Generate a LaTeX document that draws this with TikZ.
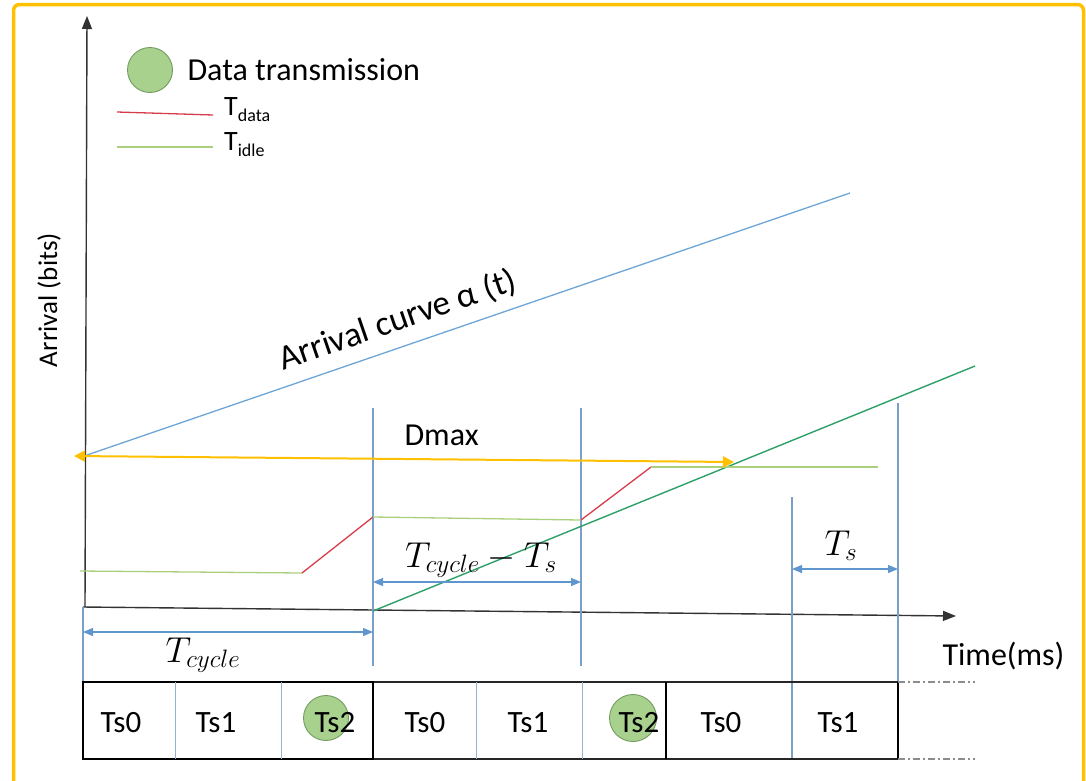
\RequirePackage{fix-cm}
\documentclass[tikz,border=0pt]{standalone}
\usepackage{fontspec}
\usepackage{graphicx}
\setmainfont{Carlito}
\usetikzlibrary{arrows.meta}
\definecolor{bordc}{RGB}{255,192,0}
\definecolor{bluec}{RGB}{120,160,200}
\definecolor{arrc}{RGB}{110,165,215}
\definecolor{idlec}{RGB}{170,208,125}
\definecolor{datac}{RGB}{215,60,75}
\definecolor{servc}{RGB}{45,160,105}
\definecolor{dotc}{RGB}{169,209,142}
\definecolor{dotd}{RGB}{115,155,95}
\definecolor{dimc}{RGB}{95,150,205}
\definecolor{yelc}{RGB}{255,192,0}
\newcommand{\mylabelmath}[1]{\scalebox{1.2}{$#1$}}
\begin{document}
\begin{tikzpicture}[x=1pt,y=-1pt,
  axis/.style={draw=black!80, line width=1.4pt, -{Triangle[length=13pt,width=10pt]}},
  vline/.style={draw=bluec, line width=1.1pt},
  dimarrow/.style={draw=dimc, line width=1.2pt, {Triangle[length=10pt,width=8pt]}-{Triangle[length=10pt,width=8pt]}},
  idle/.style={draw=idlec, line width=1.3pt},
  datal/.style={draw=datac, line width=1.3pt},
  dot/.style={circle, fill=dotc, draw=dotd, line width=0.9pt, inner sep=0pt},
  cell/.style={anchor=base, font=\fontsize{31}{33}\selectfont},
  lbl/.style={font=\fontsize{32}{36}\selectfont},
  mlbl/.style={anchor=base, font=\fontsize{30}{33}\selectfont},
  boxline/.style={draw=black!85, line width=1.4pt},
  divl/.style={draw=bluec!80, line width=1pt}
]
\useasboundingbox (0,0) rectangle (1086,780);
% frame
\draw[bordc, line width=3.5pt, rounded corners=6pt] (13.5,782) -- (13.5,4.5) -- (1083.5,4.5) -- (1083.5,782);

% legend
\node[dot, minimum size=45pt] (ldot) at (150,70) {};
\node[lbl, anchor=base west] (ltxt) at (184,80) {Data transmission};
\coordinate (lr1) at (117,112); \coordinate (lr2) at (213,115);
\draw[datal] (lr1) -- (lr2);
\node[anchor=base west, font=\fontsize{28}{30}\selectfont, inner sep=0pt] (ltd) at (224,115) {T\raisebox{-6pt}{\fontsize{18}{20}\selectfont data}};
\coordinate (lg1) at (117,147); \coordinate (lg2) at (213,147);
\draw[idle] (lg1) -- (lg2);
\node[anchor=base west, font=\fontsize{28}{30}\selectfont, inner sep=0pt] (lti) at (224,150) {T\raisebox{-6pt}{\fontsize{18}{20}\selectfont idle}};

% axes
\coordinate (yb) at (85,607); \coordinate (yt) at (87,16);
\coordinate (xl) at (83,607); \coordinate (xr) at (956,616);
\draw[axis] (yb) -- (yt);
\draw[axis] (xl) -- (xr);
\node[rotate=90, anchor=base, font=\fontsize{27}{30}\selectfont] (ylab) at (57,300) {Arrival (bits)};
\node[lbl, anchor=base west] (xlab) at (939,665) {Time(ms)};

% vertical guide lines
\coordinate (v0a) at (83,607); \coordinate (v0b) at (83,682);
\coordinate (v1a) at (373,408); \coordinate (v1b) at (373,666);
\coordinate (v2a) at (581,408); \coordinate (v2b) at (581,666);
\coordinate (v3a) at (792,497); \coordinate (v3b) at (792,759);
\coordinate (v4a) at (898,403); \coordinate (v4b) at (898,682);
\draw[vline] (v0a) -- (v0b);
\draw[vline] (v1a) -- (v1b);
\draw[vline] (v2a) -- (v2b);
\draw[vline] (v3a) -- (v3b);
\draw[vline] (v4a) -- (v4b);

% arrival curve
\coordinate (ac1) at (87,455); \coordinate (ac2) at (850,193);
\draw[arrc, line width=1.3pt] (ac1) -- (ac2);
\node[rotate=18.95, anchor=base, font=\fontsize{35}{37}\selectfont] (aclab) at (401,330) {Arrival curve α (t)};

% service curve
\coordinate (sc1) at (373,611); \coordinate (sc2) at (975,366);
\draw[servc, line width=1.4pt] (sc1) -- (sc2);

% idle / data staircase
\coordinate (s1) at (80,571); \coordinate (s2) at (302,573);
\coordinate (s3) at (373,517); \coordinate (s4) at (581,520);
\coordinate (s5) at (651,467); \coordinate (s6) at (878,467);
\draw[idle] (s1) -- (s2);
\draw[datal] (s2) -- (s3);
\draw[idle] (s3) -- (s4);
\draw[datal] (s4) -- (s5);
\draw[idle] (s5) -- (s6);

% Dmax arrow
\coordinate (dm1) at (74,456); \coordinate (dm2) at (734,462);
\draw[yelc, line width=2pt, {Triangle[length=11pt,width=11pt]}-{Triangle[length=11pt,width=11pt]}] (dm1) -- (dm2);
\node[lbl, anchor=base west] (dmax) at (401,445) {Dmax};

% dimension arrows
\coordinate (tc1) at (83,632); \coordinate (tc2) at (373,632);
\draw[dimarrow] (tc1) -- (tc2);
\node[mlbl] (tclab) at (203,662) {\mylabelmath{T_{cycle}}};
\coordinate (td1) at (373,582); \coordinate (td2) at (581,582);
\draw[dimarrow] (td1) -- (td2);
\node[mlbl] (tdlab) at (481,567) {\mylabelmath{T_{cycle}-T_s}};
\coordinate (ts1) at (792,569); \coordinate (ts2) at (898,569);
\draw[dimarrow] (ts1) -- (ts2);
\node[mlbl] (tslab) at (841,555) {\mylabelmath{T_s}};

% slot row
\coordinate (b0t) at (83,682); \coordinate (b0b) at (83,759);
\coordinate (bet) at (898,682); \coordinate (beb) at (898,759);
\coordinate (b3t) at (373,682); \coordinate (b3b) at (373,759);
\coordinate (b6t) at (666,682); \coordinate (b6b) at (666,759);
\draw[boxline] (b0t) -- (bet);
\draw[boxline] (b3b) -- (beb);
\draw[draw=black, line width=2.2pt] (b0t) rectangle (b3b);
\draw[draw=black, line width=1.3pt] (b6t) -- (b6b);
\draw[draw=black, line width=2pt] (bet) -- (beb);
\foreach \xx/\nm in {175/d1,281/d2,476/d3,582/d4} {
  \coordinate (\nm t) at (\xx,682); \coordinate (\nm b) at (\xx,759);
  \draw[divl] (\nm t) -- (\nm b);
}
\coordinate (ex1) at (975,682); \coordinate (ex2) at (975,759);
\draw[black!45, line width=1.2pt, dash pattern=on 7pt off 3pt on 2pt off 3pt] (bet) -- (ex1);
\draw[black!45, line width=1.2pt, dash pattern=on 7pt off 3pt on 2pt off 3pt] (beb) -- (ex2);

\node[dot, minimum size=45pt] (tx1) at (326,718) {};
\node[dot, minimum size=47pt] (tx2) at (633,718) {};
\node[cell] (c1) at (121,732) {Ts0};
\node[cell] (c2) at (216,732) {Ts1};
\node[cell] (c3) at (335,732) {Ts2};
\node[cell] (c4) at (425,732) {Ts0};
\node[cell] (c5) at (528,732) {Ts1};
\node[cell] (c6) at (639,732) {Ts2};
\node[cell] (c7) at (721,732) {Ts0};
\node[cell] (c8) at (838,732) {Ts1};
\end{tikzpicture}
\end{document}
